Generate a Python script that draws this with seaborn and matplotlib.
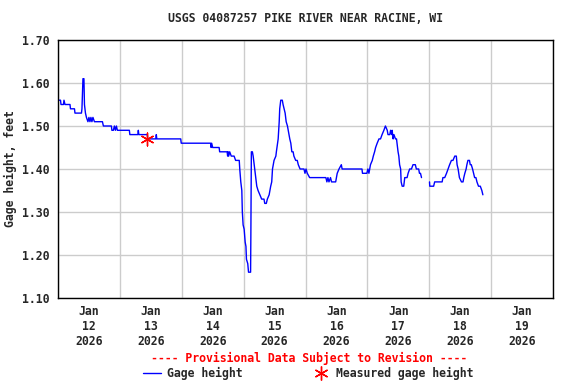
import numpy as np
import pandas as pd
import matplotlib
matplotlib.use("Agg")
import matplotlib.pyplot as plt
import matplotlib.dates as mdates
from matplotlib.lines import Line2D
import seaborn as sns

# ---------------- data (hours since 2026-01-12 00:00, gage height ft) -------------
hours_a = [0.0, 0.97, 1.16, 2.13, 2.32, 2.71, 4.65, 4.84, 6.39, 6.58, 9.10, 9.29, 9.68, 10.06,
           10.26, 10.65, 11.03, 11.61, 12.0, 12.39, 12.77, 13.16, 13.55, 14.13, 17.23, 17.61,
           20.71, 20.9, 21.48, 21.87, 22.26, 22.65, 23.03, 27.68, 27.87, 30.97, 31.16, 31.35,
           34.65, 34.84, 37.94, 38.13, 38.32, 47.6, 47.8, 59.2, 59.4, 59.6, 60.0, 62.5, 62.7,
           65.6, 65.8, 66.0, 66.2, 66.6, 67.2, 67.9, 68.3, 68.9, 70.3, 70.5, 70.9, 71.3, 71.5,
           71.8, 72.2, 72.6, 72.9, 73.1, 73.6, 73.9, 74.7, 74.8, 75.0, 75.4, 75.7, 76.1, 76.5,
           76.7, 77.1, 77.6, 78.3, 79.0, 79.9, 80.2, 80.8, 81.2, 81.9, 82.5, 82.9, 83.2, 83.8,
           84.5, 84.7, 85.4, 85.8, 86.0, 86.4, 87.0, 87.3, 87.7, 88.1, 88.5, 89.0, 89.3, 89.9,
           90.3, 90.7, 91.2, 91.5, 92.2, 92.8, 93.2, 93.9, 95.4, 95.8, 96.2, 96.7, 97.6, 103.9,
           104.3, 104.7, 105.1, 105.7, 106.1, 107.7, 108.0, 108.3, 109.0, 109.9, 110.2, 117.9,
           118.1, 119.8, 120.2, 120.6, 120.9, 121.2, 121.9, 122.3, 122.8, 123.2, 123.8, 124.5,
           125.1, 125.7, 126.4, 127.0, 127.7, 128.0, 128.7, 129.0, 129.4, 129.6, 130.0, 130.3,
           130.9, 131.3, 131.5, 131.9, 132.2, 132.5, 132.9, 133.1, 133.5, 134.1, 134.5, 135.4,
           135.8, 136.4, 137.1, 137.7, 138.6, 139.0, 139.9, 140.2, 140.6, 141.0]
gage_a = [1.56, 1.56, 1.55, 1.55, 1.56, 1.55, 1.55, 1.54, 1.54, 1.53, 1.53, 1.54, 1.61, 1.61,
          1.55, 1.53, 1.52, 1.51, 1.52, 1.51, 1.52, 1.51, 1.52, 1.51, 1.51, 1.50,
          1.50, 1.49, 1.49, 1.50, 1.49, 1.50, 1.49, 1.49, 1.48, 1.48, 1.49, 1.48,
          1.48, 1.47, 1.47, 1.48, 1.47, 1.47, 1.46, 1.46, 1.45, 1.46, 1.45, 1.45, 1.44,
          1.44, 1.43, 1.44, 1.43, 1.44, 1.43, 1.43, 1.43, 1.42, 1.42, 1.40, 1.37, 1.35, 1.30,
          1.27, 1.26, 1.23, 1.22, 1.19, 1.18, 1.16, 1.16, 1.24, 1.44, 1.44, 1.43, 1.41, 1.39,
          1.38, 1.36, 1.35, 1.34, 1.33, 1.33, 1.32, 1.32, 1.33, 1.34, 1.36, 1.37, 1.40, 1.42,
          1.43, 1.44, 1.47, 1.51, 1.54, 1.56, 1.56, 1.55, 1.54, 1.53, 1.51, 1.50, 1.49, 1.47,
          1.46, 1.44, 1.44, 1.43, 1.42, 1.42, 1.41, 1.40, 1.40, 1.39, 1.40, 1.39, 1.38, 1.38,
          1.37, 1.38, 1.37, 1.38, 1.37, 1.37, 1.38, 1.39, 1.40, 1.41, 1.40, 1.40,
          1.39, 1.39, 1.40, 1.39, 1.40, 1.41, 1.42, 1.43, 1.44, 1.45, 1.46, 1.47,
          1.47, 1.48, 1.49, 1.50, 1.49, 1.48, 1.48, 1.49, 1.48, 1.49, 1.47, 1.48,
          1.47, 1.47, 1.46, 1.44, 1.43, 1.41, 1.40, 1.37, 1.36, 1.36, 1.38, 1.38,
          1.39, 1.40, 1.40, 1.41, 1.41, 1.40, 1.40, 1.39, 1.39, 1.38]
hours_b = [144.1, 144.2, 145.7, 146.1, 149.0, 149.3, 150.0, 150.7, 151.3, 151.9, 152.6, 153.2,
           153.9, 154.5, 154.8, 155.2, 155.7, 156.5, 157.1, 157.4, 157.8, 158.3, 158.6, 159.0,
           159.6, 159.9, 160.3, 160.8, 161.2, 161.6, 162.1, 162.5, 163.1, 163.8, 164.4, 164.8]
gage_b = [1.37, 1.36, 1.36, 1.37, 1.37, 1.38, 1.38, 1.39, 1.40, 1.41, 1.42, 1.42,
          1.43, 1.43, 1.41, 1.40, 1.38, 1.37, 1.37, 1.38, 1.39, 1.40, 1.41, 1.42,
          1.42, 1.41, 1.41, 1.40, 1.39, 1.38, 1.38, 1.37, 1.36, 1.36, 1.35, 1.34]
measured_hours = [34.4]
measured_gage = [1.47]

title = "USGS 04087257 PIKE RIVER NEAR RACINE, WI"
ylabel = "Gage height, feet"
provisional = "---- Provisional Data Subject to Revision ----"
legend_labels = ["Gage height", "Measured gage height"]
yticks = [1.10, 1.20, 1.30, 1.40, 1.50, 1.60, 1.70]

# ---------------- build frames ----------------
base = pd.Timestamp("2026-01-12 00:00")
df = pd.DataFrame({
    "time": base + pd.to_timedelta(hours_a + hours_b, unit="h"),
    "gage": gage_a + gage_b,
    "seg": ["a"] * len(hours_a) + ["b"] * len(hours_b),
})
dm = pd.DataFrame({"time": base + pd.to_timedelta(measured_hours, unit="h"),
                   "gage": measured_gage})

# ---------------- style ----------------
sns.set_style("white")
plt.rcParams["font.family"] = ["DejaVu Sans Mono"]
plt.rcParams["font.weight"] = "bold"
FS = 8.3

fig = plt.figure(figsize=(5.76, 3.84), dpi=100)
ax = fig.add_axes([58 / 576, 1 - 298 / 384, 495 / 576, 258 / 384])

sns.lineplot(data=df, x="time", y="gage", units="seg", estimator=None,
             color="#0000ff", linewidth=1.0, ax=ax, legend=False)
ax.scatter(dm["time"], dm["gage"], marker=(6, 2, 0), s=85, color="red",
           linewidths=1.0, zorder=5)

ax.set_xlim(base, base + pd.Timedelta(days=8))
ax.set_ylim(1.10, 1.70)
ax.set_yticks(yticks)
ax.set_yticklabels([f"{v:.2f}" for v in yticks], fontsize=FS, fontweight="bold")

ax.xaxis.set_major_locator(mdates.HourLocator(byhour=12))
ax.xaxis.set_major_formatter(mdates.DateFormatter("%b\n%d\n%Y"))
ax.xaxis.set_minor_locator(mdates.DayLocator())
ax.tick_params(axis="x", which="both", length=0, pad=5, labelsize=FS)
ax.tick_params(axis="y", length=0, pad=6, labelsize=FS)

ax.grid(False)
ax.grid(which="minor", axis="x", color="#cccccc", linewidth=1.0)
ax.grid(which="major", axis="y", color="#cccccc", linewidth=1.0)
ax.set_axisbelow(True)
for sp in ax.spines.values():
    sp.set_color("black")
    sp.set_linewidth(1.0)

ax.set_xlabel("")
ax.set_ylabel(ylabel, fontsize=FS, fontweight="bold")
ax.yaxis.set_label_coords((17 - 58) / 495, 0.5)

fig.text(306 / 576, 1 - 19 / 384, title, ha="center", va="center",
         fontsize=FS, fontweight="bold")
fig.text(309 / 576, 1 - 358 / 384, provisional, ha="center", va="center",
         fontsize=FS, fontweight="bold", color="red")

handles = [Line2D([0], [0], color="#0000ff", linewidth=1.0),
           Line2D([0], [0], color="red", marker=(6, 2, 0), markersize=10,
                  linestyle="none", markeredgewidth=1.0)]
fig.legend(handles, legend_labels, loc="center", bbox_to_anchor=(308 / 576, 1 - 373 / 384),
           ncol=2, frameon=False, fontsize=FS, handlelength=1.6, handletextpad=0.5,
           columnspacing=6.0, borderpad=0, borderaxespad=0)

fig.savefig("out.png", dpi=100)
